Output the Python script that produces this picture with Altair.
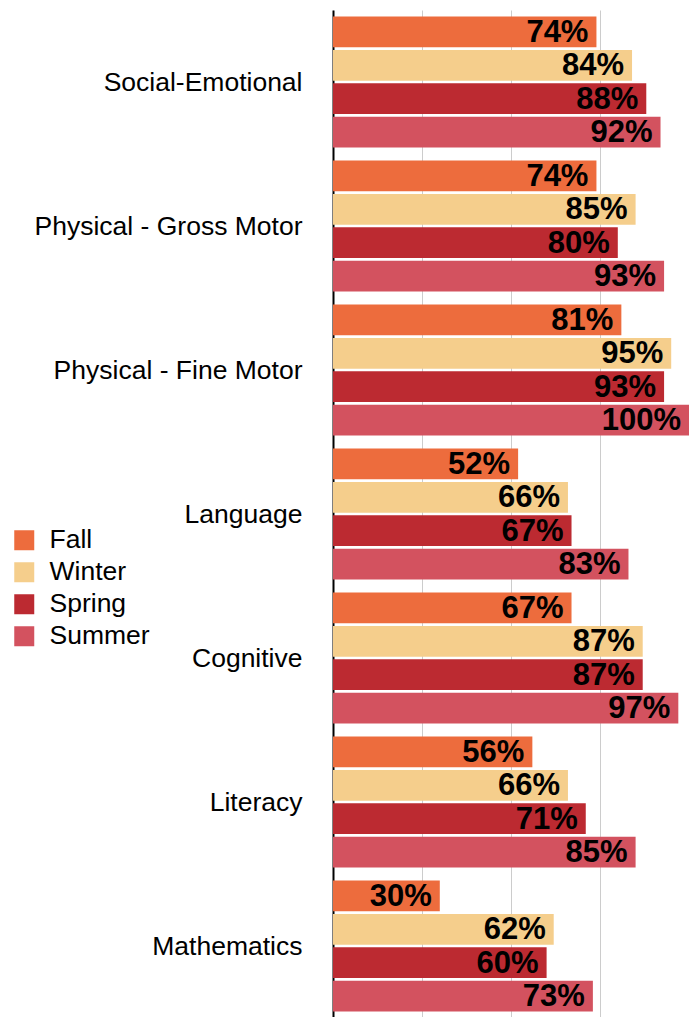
import altair as alt
import pandas as pd

categories = ["Social-Emotional", "Physical - Gross Motor", "Physical - Fine Motor",
              "Language", "Cognitive", "Literacy", "Mathematics"]
seasons = ["Fall", "Winter", "Spring", "Summer"]
fall = [74, 74, 81, 52, 67, 56, 30]
winter = [84, 85, 95, 66, 87, 66, 62]
spring = [88, 80, 93, 67, 87, 71, 60]
summer = [92, 93, 100, 83, 97, 85, 73]
colors = ["#ED6C3D", "#F5CE8C", "#BC2A31", "#D3525F"]

rows = []
for i, c in enumerate(categories):
    for s, vals in zip(seasons, [fall, winter, spring, summer]):
        rows.append({"category": c, "season": s, "value": vals[i]})
df = pd.DataFrame(rows)
df["label"] = df["value"].astype(str) + "%"

FONT = "Liberation Sans"

y_enc = alt.Y("category:N", sort=categories, title=None,
              scale=alt.Scale(paddingInner=0.09, paddingOuter=0.045),
              axis=alt.Axis(labelFontSize=26.5, labelColor="black", labelFont=FONT,
                            labelPadding=31, labelOffset=1, ticks=False,
                            domainColor="black", domainWidth=2, labelLimit=400))
yoff = alt.YOffset("season:N", sort=seasons,
                   scale=alt.Scale(paddingInner=0.08, paddingOuter=0))
x_enc = alt.X("value:Q", title=None,
              scale=alt.Scale(domain=[0, 100], nice=False),
              axis=alt.Axis(values=[0, 25, 50, 75, 100], labels=False, ticks=False,
                            domain=False, grid=True, gridColor="#cccccc", gridWidth=1))

bars = alt.Chart(df).mark_bar().encode(
    y=y_enc,
    yOffset=yoff,
    x=x_enc,
    color=alt.Color("season:N", sort=seasons,
                    scale=alt.Scale(domain=seasons, range=colors),
                    legend=alt.Legend(title=None, orient="none", legendX=-322, legendY=517,
                                      symbolType="square", symbolSize=400,
                                      symbolStrokeWidth=0, symbolOpacity=1,
                                      labelFontSize=26.5, labelFont=FONT, labelColor="black",
                                      labelOffset=12, rowPadding=5, padding=0,
                                      labelExpr="datum.label == 'Fall' ? '\u00a0Fall' : datum.label")),
)

text = alt.Chart(df).mark_text(align="right", baseline="middle", dx=-8, dy=1,
                               fontSize=31, fontWeight="bold", font=FONT,
                               color="black").encode(
    y=alt.Y("category:N", sort=categories),
    yOffset=alt.YOffset("season:N", sort=seasons),
    x=alt.X("value:Q"),
    text="label:N",
)

chart = (bars + text).properties(
    width=356, height=1008,
    autosize=alt.AutoSizeParams(type="none"),
    padding={"left": 325, "top": 2, "right": 0, "bottom": 0},
).configure_view(stroke=None).configure_axisY(domainColor="black")

chart.save("out.html", embed_options={"renderer": "svg", "actions": False})
